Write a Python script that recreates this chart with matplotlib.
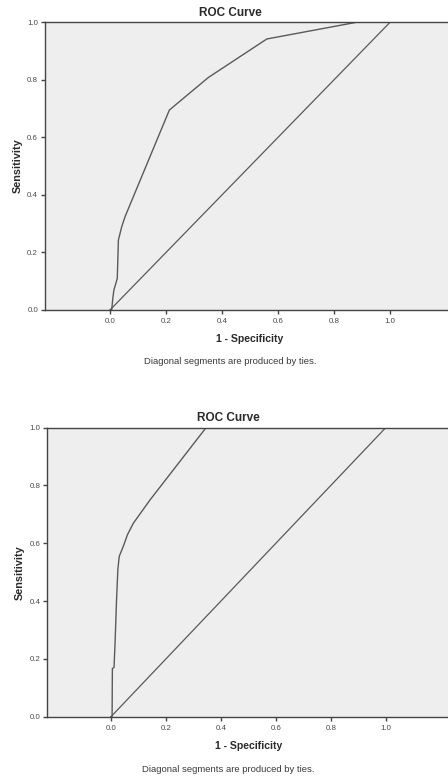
import matplotlib.pyplot as plt

plt.rcParams["font.family"] = ["Liberation Sans", "DejaVu Sans"]

# ROC curve 1 (top panel)
fpr_top = [0.0, 0.006, 0.010, 0.014, 0.021, 0.026, 0.030, 0.042, 0.054, 0.212, 0.351, 0.560, 0.880, 1.0]
tpr_top = [0.0, 0.0, 0.040, 0.070, 0.093, 0.110, 0.243, 0.290, 0.325, 0.695, 0.808, 0.942, 1.0, 1.0]

# ROC curve 2 (bottom panel)
fpr_bot = [0.0, 0.004, 0.005, 0.011, 0.015, 0.020, 0.025, 0.030, 0.045, 0.060, 0.081, 0.142, 0.346, 1.0]
tpr_bot = [0.0, 0.0, 0.167, 0.170, 0.260, 0.400, 0.510, 0.555, 0.590, 0.630, 0.669, 0.750, 1.0, 1.0]

ref = [0.0, 1.0]
ticks = [0.0, 0.2, 0.4, 0.6, 0.8, 1.0]
tick_labels = ["0.0", "0.2", "0.4", "0.6", "0.8", "1.0"]

W, H = 448, 781
fig = plt.figure(figsize=(W / 100, H / 100), dpi=100)

line_col = "#5a5a5a"
bg_col = "#eeeeee"
text_col = "#2a2a2a"


def panel(left, top, bottom, x0, x1, fpr, tpr, title_y, xlabel_y, note_y, head_x):
    right = 452
    ax = fig.add_axes([left / W, 1 - bottom / H, (right - left) / W, (bottom - top) / H])
    unit = x1 - x0
    ax.set_xlim((left - x0) / unit, (right - x0) / unit)
    ax.set_ylim(0, 1)
    ax.set_facecolor(bg_col)
    ax.plot(fpr, tpr, color=line_col, lw=1.0)
    ax.plot(ref, ref, color=line_col, lw=0.9)
    for s in ["left", "bottom", "top"]:
        ax.spines[s].set_color("#444444")
        ax.spines[s].set_linewidth(1.0)
    ax.spines["right"].set_visible(False)
    ax.set_xticks(ticks)
    ax.set_xticklabels(tick_labels)
    ax.set_yticks(ticks)
    ax.set_yticklabels(tick_labels)
    ax.tick_params(axis="both", length=3, width=1.0, color="#444444",
                   labelsize=5.7, labelcolor="#4a4a4a", pad=2)
    ax.tick_params(axis="x", pad=3)
    ax.set_ylabel("Sensitivity", fontsize=7.8, fontweight="bold", color=text_col, labelpad=3)
    cx = (x0 + x1) / 2 / W
    fig.text(head_x / W, 1 - title_y / H, "ROC Curve", ha="center", va="center",
             fontsize=8.5, fontweight="bold", color=text_col)
    fig.text(cx, 1 - xlabel_y / H, "1 - Specificity", ha="center", va="center",
             fontsize=7.6, fontweight="bold", color=text_col)
    fig.text(head_x / W, 1 - note_y / H, "Diagonal segments are produced by ties.",
             ha="center", va="center", fontsize=6.8, color="#3a3a3a")
    return ax


panel(45, 22.3, 310, 110, 390, fpr_top, tpr_top, 12.5, 339.5, 362, 230)
panel(47.3, 427.7, 716.7, 111, 385.7, fpr_bot, tpr_bot, 418, 746, 769, 228.5)

fig.savefig("out.png", dpi=100)
